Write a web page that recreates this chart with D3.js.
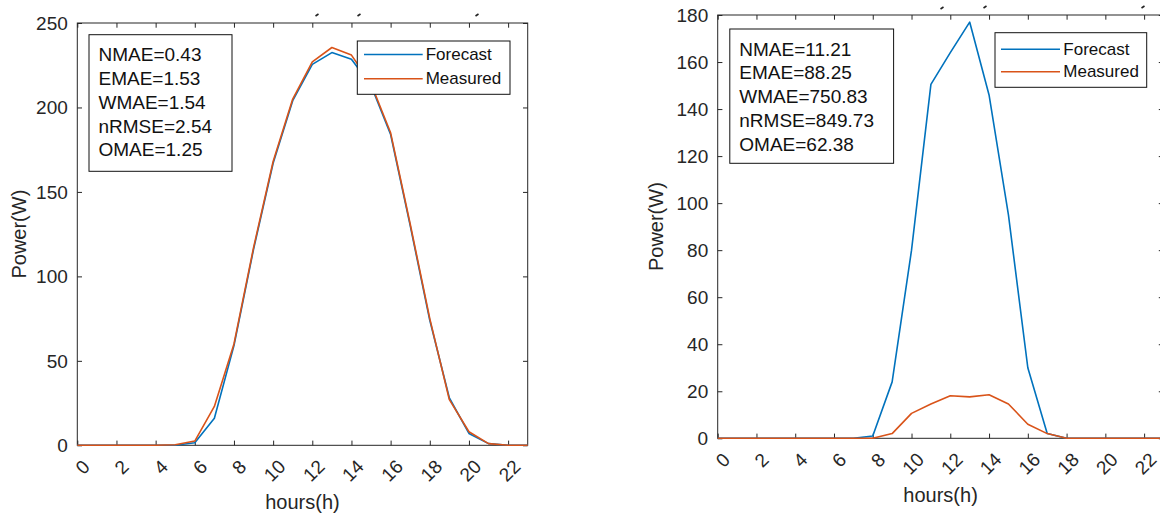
<!DOCTYPE html>
<html>
<head>
<meta charset="utf-8">
<script src="https://cdn.jsdelivr.net/npm/d3@7/dist/d3.min.js"></script>
<style>
  html, body { margin: 0; padding: 0; background: #fff; }
  svg { display: block; font-family: "Liberation Sans", Arial, sans-serif; }
</style>
</head>
<body>
<svg id="chart" width="1160" height="516"></svg>
<script>
// ---------------- DATA ----------------
const hours = d3.range(0, 24);             // 0..23
const xTickValues = [0, 2, 4, 6, 8, 10, 12, 14, 16, 18, 20, 22];
const seriesNames = ["Forecast", "Measured"];

// Left panel
const leftForecast = [0, 0, 0, 0, 0, 0, 1.5, 16, 59, 116, 167, 204, 225.5, 232.5, 228.5, 213, 184, 130, 74, 28, 7, 1, 0, 0];
const leftMeasured = [0, 0, 0, 0, 0, 0.3, 2.5, 23, 60, 117, 168, 205, 227, 235.5, 231, 214, 185, 131, 75, 27, 8, 1, 0, 0];
const leftYTicks = [0, 50, 100, 150, 200, 250];
const leftMetrics = ["NMAE=0.43", "EMAE=1.53", "WMAE=1.54", "nRMSE=2.54", "OMAE=1.25"];

// Right panel
const rightForecast = [0, 0, 0, 0, 0, 0, 0, 0, 1, 24, 80, 150.5, 164, 177, 146, 95, 30, 2, 0, 0, 0, 0, 0, 0];
const rightMeasured = [0, 0, 0, 0, 0, 0, 0, 0, 0, 2, 10.6, 14.6, 18.1, 17.6, 18.5, 14.6, 6, 2, 0, 0, 0, 0, 0, 0];
const rightYTicks = [0, 20, 40, 60, 80, 100, 120, 140, 160, 180];
const rightMetrics = ["NMAE=11.21", "EMAE=88.25", "WMAE=750.83", "nRMSE=849.73", "OMAE=62.38"];

const xLabel = "hours(h)";
const yLabel = "Power(W)";

// ---------------- STYLE ----------------
const colors = { Forecast: "#0072BD", Measured: "#D95319" };
const axisColor = "#262626";
const tickLen = 4.7;

const svg = d3.select("#chart");

function drawPanel(cfg) {
  const x = d3.scaleLinear().domain([0, 23]).range([cfg.x0, cfg.x1]);
  const y = d3.scaleLinear().domain([0, cfg.yMax]).range([cfg.yBottom, cfg.yTop]);
  const g = svg.append("g");

  // frame
  g.append("rect")
    .attr("x", cfg.x0).attr("y", cfg.yTop)
    .attr("width", cfg.x1 - cfg.x0).attr("height", cfg.yBottom - cfg.yTop)
    .attr("fill", "none").attr("stroke", axisColor).attr("stroke-width", 1);

  // bottom axis
  const bx = g.append("g").attr("transform", `translate(0,${cfg.yBottom})`)
    .call(d3.axisBottom(x).tickValues(xTickValues).tickSizeInner(-tickLen).tickSizeOuter(0).tickFormat(d3.format("d")));
  // top axis (ticks only)
  const tx = g.append("g").attr("transform", `translate(0,${cfg.yTop})`)
    .call(d3.axisTop(x).tickValues(xTickValues).tickSizeInner(-tickLen).tickSizeOuter(0).tickFormat(""));
  // left axis
  const ly = g.append("g").attr("transform", `translate(${cfg.x0},0)`)
    .call(d3.axisLeft(y).tickValues(cfg.yTicks).tickSizeInner(-tickLen).tickSizeOuter(0).tickPadding(9.5).tickFormat(d3.format("d")));
  // right axis (ticks only)
  const ry = g.append("g").attr("transform", `translate(${cfg.x1},0)`)
    .call(d3.axisRight(y).tickValues(cfg.yTicks).tickSizeInner(-tickLen).tickSizeOuter(0).tickFormat(""));

  [bx, tx, ly, ry].forEach(a => {
    a.select(".domain").remove();
    a.selectAll("line").attr("stroke", axisColor);
    a.selectAll("text").attr("fill", axisColor).attr("font-size", 19)
      .attr("font-family", '"Liberation Sans", Arial, sans-serif');
  });
  ly.selectAll("text").attr("dy", null).attr("dominant-baseline", "central");
  bx.selectAll("text")
    .attr("x", null).attr("y", null).attr("dy", null)
    .attr("text-anchor", "end")
    .attr("dominant-baseline", "central")
    .attr("transform", "translate(8.5,18) rotate(-45)");

  // axis titles
  g.append("text")
    .attr("transform", `translate(${cfg.yLabelX},${(cfg.yTop + cfg.yBottom) / 2}) rotate(-90)`)
    .attr("text-anchor", "middle").attr("dominant-baseline", "central")
    .attr("font-size", 20).attr("fill", axisColor).text(yLabel);
  g.append("text")
    .attr("x", (cfg.x0 + cfg.x1) / 2).attr("y", cfg.yBottom + 63.5)
    .attr("text-anchor", "middle")
    .attr("font-size", 20).attr("fill", axisColor).text(xLabel);

  // data lines
  const line = d3.line().x((d, i) => x(hours[i])).y(d => y(d));
  [["Forecast", cfg.forecast], ["Measured", cfg.measured]].forEach(([name, vals]) => {
    g.append("path").datum(vals)
      .attr("d", line)
      .attr("fill", "none")
      .attr("stroke", colors[name])
      .attr("stroke-width", 1.6)
      .attr("stroke-linejoin", "round");
  });

  // metrics text box
  const tb = cfg.textBox;
  g.append("rect").attr("x", tb.x).attr("y", tb.y).attr("width", tb.w).attr("height", tb.h)
    .attr("fill", "#fff").attr("stroke", "#111").attr("stroke-width", 1);
  g.selectAll(null).data(cfg.metrics).enter().append("text")
    .attr("x", tb.x + 9.5)
    .attr("y", (d, i) => tb.y + 20.2 + i * 23.75)
    .attr("dominant-baseline", "central")
    .attr("font-size", 19).attr("fill", "#111")
    .text(d => d);

  // legend
  const lg = cfg.legend;
  g.append("rect").attr("x", lg.x).attr("y", lg.y).attr("width", lg.w).attr("height", lg.h)
    .attr("fill", "#fff").attr("stroke", "#111").attr("stroke-width", 1);
  seriesNames.forEach((name, i) => {
    const cy = lg.rows[i];
    g.append("line").attr("x1", lg.lineX0).attr("x2", lg.lineX1).attr("y1", cy).attr("y2", cy)
      .attr("stroke", colors[name]).attr("stroke-width", 1.5);
    g.append("text").attr("x", lg.textX).attr("y", cy)
      .attr("dominant-baseline", "central")
      .attr("font-size", 17).attr("fill", "#111").text(name);
  });

  // remnants of the cropped title above the frame
  cfg.titleMarks.forEach(([mx, my]) => {
    g.append("line").attr("x1", mx - 1.5).attr("y1", my + 1).attr("x2", mx + 1.5).attr("y2", my - 1)
      .attr("stroke", "#222").attr("stroke-width", 1.6);
  });
}

drawPanel({
  x0: 77.3, x1: 527.7, yTop: 23, yBottom: 445.3, yMax: 250, yTicks: leftYTicks,
  yLabelX: 19,
  forecast: leftForecast, measured: leftMeasured, metrics: leftMetrics,
  textBox: { x: 89, y: 34.7, w: 143, h: 136.6 },
  legend: { x: 357.3, y: 41, w: 152.7, h: 53.3, rows: [54.5, 78.8], lineX0: 364, lineX1: 422.7, textX: 425.7 },
  titleMarks: [[317, 15], [359, 15], [477, 15]]
});

drawPanel({
  x0: 717.7, x1: 1163.5, yTop: 15, yBottom: 438.3, yMax: 180, yTicks: rightYTicks,
  yLabelX: 655.6,
  forecast: rightForecast, measured: rightMeasured, metrics: rightMetrics,
  textBox: { x: 729.8, y: 29, w: 163.8, h: 134.3 },
  legend: { x: 995, y: 32.7, w: 151.7, h: 54.6, rows: [49.3, 71.7], lineX0: 1001, lineX1: 1060, textX: 1063.3 },
  titleMarks: [[942, 8], [985, 7], [1143, 7]]
});
</script>
</body>
</html>
